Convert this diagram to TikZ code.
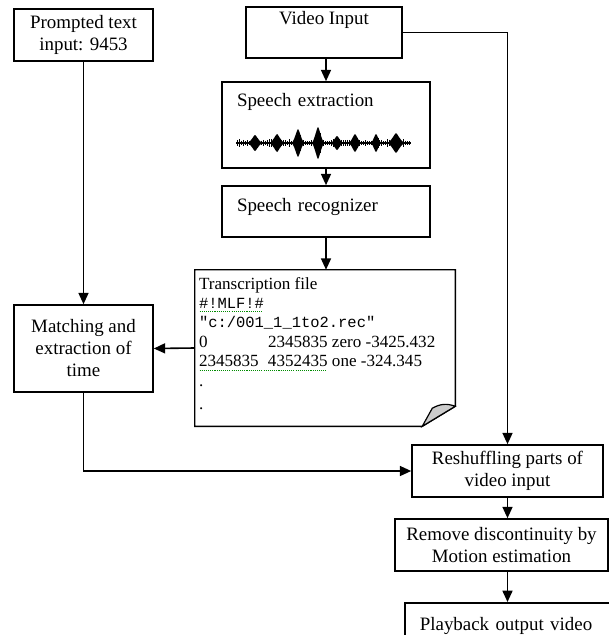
\documentclass[tikz,border=0pt]{standalone}
\usepackage{fontspec}
\setmainfont{Liberation Serif}
\setmonofont{Liberation Mono}
\usepackage{xcolor}
\usepackage{tikz}
\usetikzlibrary{arrows.meta,positioning,calc}

% dotted green spell-check mark under a piece of text
\newcommand\spellchk[1]{\leavevmode\setbox0\hbox{#1}%
  \rlap{\color{green!55!black}\leaders\hbox to 1.6pt{\hss\rule[-2.6pt]{0.8pt}{0.6pt}\hss}\hskip\wd0}\box0\relax}

\begin{document}
\begin{tikzpicture}[
    x=0.75pt, y=-0.75pt,
    box/.style={draw,line width=1.2pt,inner sep=0pt,font={\fontsize{14.2}{16.5}\selectfont}},
    cbox/.style={box,align=center},
    lbox/.style={box,align=left,inner xsep=11.25pt,text width=#1},
    arr/.style={-{Triangle[length=8.5pt,width=7.5pt]},line width=1.2pt},
    wave/.style={fill=black},
  ]
  \useasboundingbox (0,0) rectangle (609,635);

  % left column
  \node[cbox,minimum width=104.25pt,minimum height=39pt] (prompt) at (83.5,35) {Prompted text\\input: 9453};
  \node[cbox,minimum width=104.25pt,minimum height=65.25pt] (match) at (83.5,348.5) {Matching and\\extraction of\\time};

  % speech path
  \node[box,minimum width=117pt,text height=13.5pt,text depth=24.75pt] (video) at (324,32.5) {Video Input};
  \node[lbox=133.5pt,text height=18.75pt,text depth=45.75pt] (speech) at (326,125) {Speech extraction};
  \node[lbox=133.5pt,text height=18.75pt,text depth=19.5pt] (recog) at (326,211.5) {Speech recognizer};

  % speech waveform
  \pgfmathsetseed{11}
  \draw[line width=1.9pt] (236,143) -- (411,143);
  \foreach \t in {237,239,...,409} {
    \pgfmathsetmacro\hh{1.5+2.5*rnd}
    \draw[line width=0.5pt] (\t,143-\hh) -- (\t,143+\hh);
  }
  \foreach \bx/\bh/\bw in {255/8/7,277/9/7,298/14/6,318/16/6,337/7/6,355/9/6,376/9/5,396/10/8} {
    \fill[wave] (\bx-\bw,143) .. controls (\bx-\bw/2,143-0.3*\bh) and (\bx-1,143-\bh) .. (\bx,143-\bh)
                .. controls (\bx+1,143-\bh) and (\bx+\bw/2,143-0.3*\bh) .. (\bx+\bw,143)
                .. controls (\bx+\bw/2,143+0.3*\bh) and (\bx+1,143+\bh) .. (\bx,143+\bh)
                .. controls (\bx-1,143+\bh) and (\bx-\bw/2,143+0.3*\bh) .. cycle;
    \draw[line width=0.6pt] (\bx-2,143-0.7*\bh) -- (\bx-2,143+0.7*\bh);
    \draw[line width=0.6pt] (\bx+2,143-0.6*\bh) -- (\bx+2,143+0.6*\bh);
  }

  % transcription file (page with folded corner)
  \node[minimum width=195pt,minimum height=117pt] (trans) at (325,348) {};
  \draw[line width=1.1pt] (trans.north west) -- (trans.north east) -- ($(trans.south east)+(0,-20)$)
    -- ($(trans.south east)+(-33,0)$) -- (trans.south west) -- cycle;
  \filldraw[fill=gray!40,line width=0.9pt] ($(trans.south east)+(-33,0)$) -- ($(trans.south east)+(-23,-18)$)
    to[bend left=25] ($(trans.south east)+(0,-20)$) -- cycle;
  \node[align=left,inner sep=0pt,font={\fontsize{12.8}{14.6}\selectfont},
        below right=5.25pt and 3pt of trans.north west] (transtxt) {%
    Transcription file\\
    \spellchk{\texttt{\fontsize{11.6}{14.6}\selectfont\#!MLF!\#}}\\
    \texttt{\fontsize{11.6}{14.6}\selectfont"c:/001\_1\_1to2.rec"}\\
    \makebox[51.75pt][l]{0}2345835 zero -3425.432\\
    \spellchk{\makebox[51.75pt][l]{2345835}4352435} one -324.345\\
    .\\[3pt]
    .};

  % video output path
  \node[cbox,minimum width=143.25pt,minimum height=39pt] (reshuf) at (507.5,471) {Reshuffling parts of\\video input};
  \node[cbox,minimum width=159.75pt,minimum height=39pt] (remove) at (501.5,545) {Remove discontinuity by\\Motion estimation};
  \node[lbox=135.75pt,text height=21pt,text depth=4pt,anchor=north west] (play) at (404,602) {Playback output video};

  % connectors
  \draw[arr] (prompt) -- (match);
  \draw[arr] (speech.north |- video.south) -- (speech.north);
  \draw[arr] (speech) -- (recog);
  \draw[arr] (recog.south) -- (recog.south |- trans.north);
  \draw[arr] (trans.west) -- (match.east);
  \draw[arr] (video.east) -| (reshuf.north);
  \draw[arr] (match.south) |- (reshuf.west);
  \draw[arr] (reshuf.south) -- (reshuf.south |- remove.north);
  \draw[arr] (reshuf.south |- remove.south) -- (reshuf.south |- play.north);

\end{tikzpicture}
\end{document}
